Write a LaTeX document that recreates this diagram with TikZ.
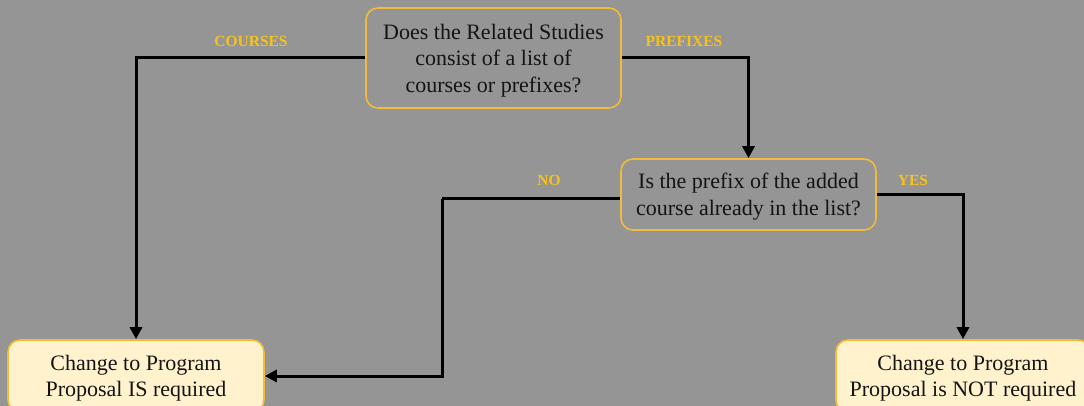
\documentclass[tikz,border=0pt]{standalone}
\usepackage{fontspec}
\setmainfont{Liberation Serif}
\usetikzlibrary{arrows.meta}
\definecolor{bg}{HTML}{959595}
\definecolor{edge}{HTML}{F2BC3A}
\definecolor{lab}{HTML}{F7C21C}
\definecolor{resfill}{HTML}{FFF2CC}
\definecolor{ink}{HTML}{141414}
\tikzset{
  question/.style={draw=edge, line width=1.6pt, rounded corners=12pt, align=center,
    text=ink, font=\fontsize{22}{26.5}\selectfont, inner sep=0pt, text depth=0pt},
  result/.style={question, fill=resfill},
  branch/.style={text=lab, font=\bfseries\fontsize{15.5}{17}\selectfont, inner sep=0pt},
  flow/.style={draw=black, line width=3pt, -{Triangle[length=12pt,width=12pt]}},
  plain/.style={draw=black, line width=3pt}
}
\begin{document}
\begin{tikzpicture}[x=1pt,y=-1pt]
\useasboundingbox (0,0) rectangle (1084,406);
\clip (0,0) rectangle (1084,406);
\fill[bg] (0,0) rectangle (1084,406);

\node[question, minimum width=255pt, minimum height=100pt] (q1) at (493.5,58)
  {Does the Related Studies\\consist of a list of\\courses or prefixes?};
\node[question, minimum width=255pt, minimum height=71pt] (q2) at (748.5,194.5)
  {Is the prefix of the added\\course already in the list?};
\node[result, minimum width=256pt, minimum height=72pt] (r1) at (136,376)
  {Change to Program\\Proposal IS required};
\node[result, minimum width=254pt, minimum height=72pt] (r2) at (963,376)
  {Change to Program\\Proposal is NOT required};

\coordinate (nobend) at (442,199);
\draw[flow] (q1.west) -| (r1.north);
\draw[flow] (q1.east) -| (q2.north);
\draw[plain] ([yshift=-4.5pt]q2.west) -- (nobend);
\draw[flow] (nobend) |- (r1.east);
\draw[flow] (q2.east) -| (r2.north);

\node[branch] (lc) at (251,41) {COURSES};
\node[branch] (lp) at (684,41) {PREFIXES};
\node[branch] (ln) at (549,180) {NO};
\node[branch] (ly) at (913,180) {YES};
\end{tikzpicture}
\end{document}
